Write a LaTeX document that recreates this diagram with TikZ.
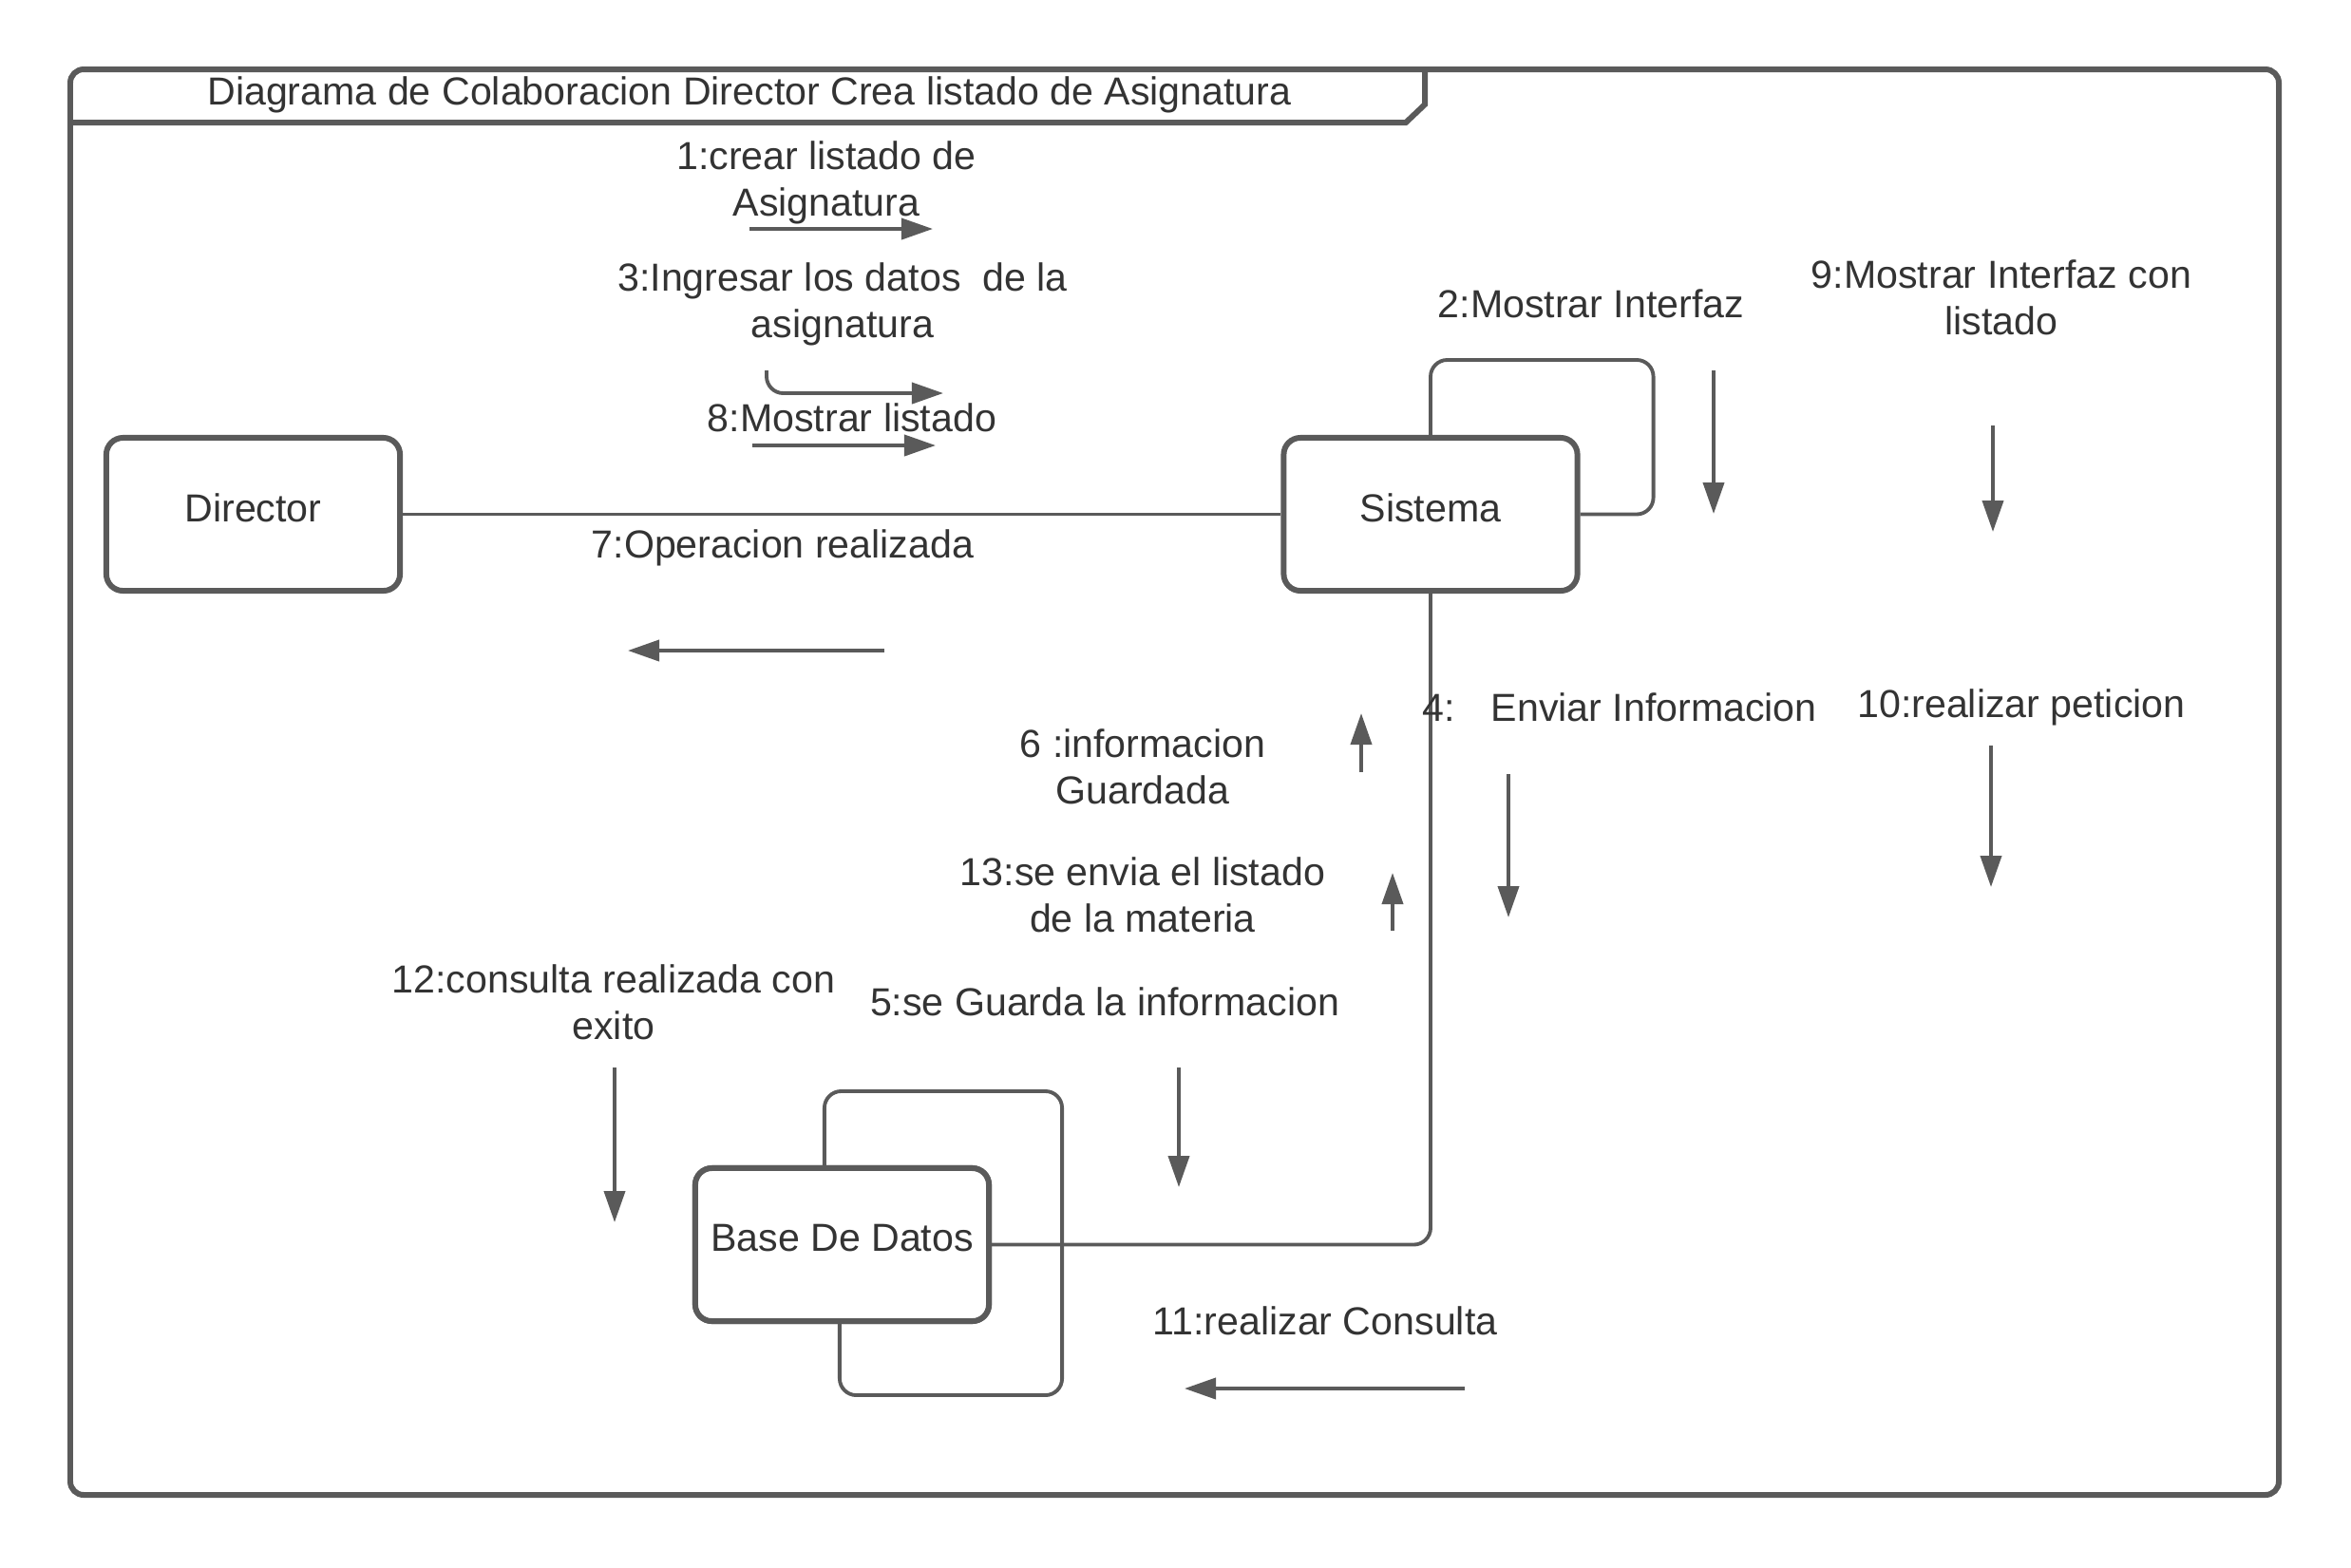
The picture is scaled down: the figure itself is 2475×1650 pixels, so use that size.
\documentclass[tikz,border=0pt]{standalone}
\usepackage{fontspec}
\setmainfont{Liberation Sans}
\usetikzlibrary{arrows.meta}

\definecolor{linegray}{HTML}{5A5A5A}
\definecolor{textgray}{HTML}{333333}

\tikzset{
  obj/.style={draw=linegray, line width=1.7pt, rounded corners=5pt, fill=white,
              minimum width=3.09cm, minimum height=1.61cm, text=textgray,
              text depth=0.14cm},
  link/.style={draw=linegray, line width=1.1pt, rounded corners=5pt},
  msg/.style={draw=linegray, line width=1.1pt, -{Triangle[length=0.33cm,width=0.22cm]}},
  lbl/.style={text=textgray, align=center, inner sep=0pt}
}

\begin{document}
\begin{tikzpicture}[x=0.01cm, y=-0.01cm, font=\fontsize{11.7}{13.9}\selectfont]
\useasboundingbox (0,0) rectangle (2475,1650);

% frame and title tab
\draw[draw=linegray, line width=1.7pt, rounded corners=4pt] (74,73) rectangle (2399,1574);
\draw[draw=linegray, line width=1.7pt] (74,129) -- (1480,129) -- (1500,110) -- (1500,73);
\node[lbl] (title) at (789,100) {Diagrama de Colaboracion Director Crea listado de Asignatura};

% objects
\node[obj] (dir) at (266.5,541.5) {Director};
\node[obj] (sis) at (1506,541.5) {Sistema};
\node[obj] (bd) at (886.5,1310.5) {Base De Datos};

% links
\draw[link] (dir.east) -- (sis.west);
\draw[link] (sis.north) -- ++(0,-79) -| ([shift={(77,0)}]sis.east) -- (sis.east);
\draw[link] (sis.south) |- (bd.east);
\draw[link] ([shift={(139,0)}]bd.north west) -- ++(0,-78)
  -| ([shift={(74,75)}]bd.south east) -| ([shift={(155,0)}]bd.south west);
\node[obj] at (bd) {Base De Datos};

% messages
\node[lbl] (m1) at (870,192) {1:crear listado de\\Asignatura};
\coordinate (m1a) at (789,241); \coordinate (m1b) at (982,241);
\draw[msg] (m1a) -- (m1b);

\node[lbl] (m3) at (887,320) {3:Ingresar los datos~ de la\\asignatura};
\coordinate (m3a) at (807,390); \coordinate (m3b) at (993,414);
\draw[msg, rounded corners=5pt] (m3a) |- (m3b);

\node[lbl] (m8) at (897,440) {8:Mostrar listado};
\coordinate (m8a) at (792,469); \coordinate (m8b) at (985,469);
\draw[msg] (m8a) -- (m8b);

\node[lbl] (m7) at (824,577) {7:Operacion realizada};
\coordinate (m7a) at (931,685); \coordinate (m7b) at (661,685);
\draw[msg] (m7a) -- (m7b);

\node[lbl] (m2) at (1675,320) {2:Mostrar Interfaz};
\coordinate (m2a) at (1804,390); \coordinate (m2b) at (1804,541);
\draw[msg] (m2a) -- (m2b);

\node[lbl] (m9) at (2107,313) {9:Mostrar Interfaz con\\listado};
\coordinate (m9a) at (2098,448); \coordinate (m9b) at (2098,560);
\draw[msg] (m9a) -- (m9b);

\node[lbl] (m4) at (1705,745) {4:~~ Enviar Informacion};
\coordinate (m4a) at (1588,815); \coordinate (m4b) at (1588,966);
\draw[msg] (m4a) -- (m4b);

\node[lbl] (m10) at (2128,745) {10:realizar peticion};
\coordinate (m10a) at (2096,785); \coordinate (m10b) at (2096,934);
\draw[msg] (m10a) -- (m10b);

\node[lbl] (m6) at (1203,807) {6 :informacion\\Guardada};
\coordinate (m6a) at (1433,813); \coordinate (m6b) at (1433,751);
\draw[msg] (m6a) -- (m6b);

\node[lbl] (m13) at (1203,942) {13:se envia el listado\\de la materia};
\coordinate (m13a) at (1466,980); \coordinate (m13b) at (1466,919);
\draw[msg] (m13a) -- (m13b);

\node[lbl] (m12) at (646,1055) {12:consulta realizada con\\exito};
\coordinate (m12a) at (647,1124); \coordinate (m12b) at (647,1287);
\draw[msg] (m12a) -- (m12b);

\node[lbl] (m5) at (1163,1055) {5:se Guarda la informacion};
\coordinate (m5a) at (1241,1124); \coordinate (m5b) at (1241,1250);
\draw[msg] (m5a) -- (m5b);

\node[lbl] (m11) at (1395,1391) {11:realizar Consulta};
\coordinate (m11a) at (1542,1462); \coordinate (m11b) at (1247,1462);
\draw[msg] (m11a) -- (m11b);
\end{tikzpicture}
\end{document}
